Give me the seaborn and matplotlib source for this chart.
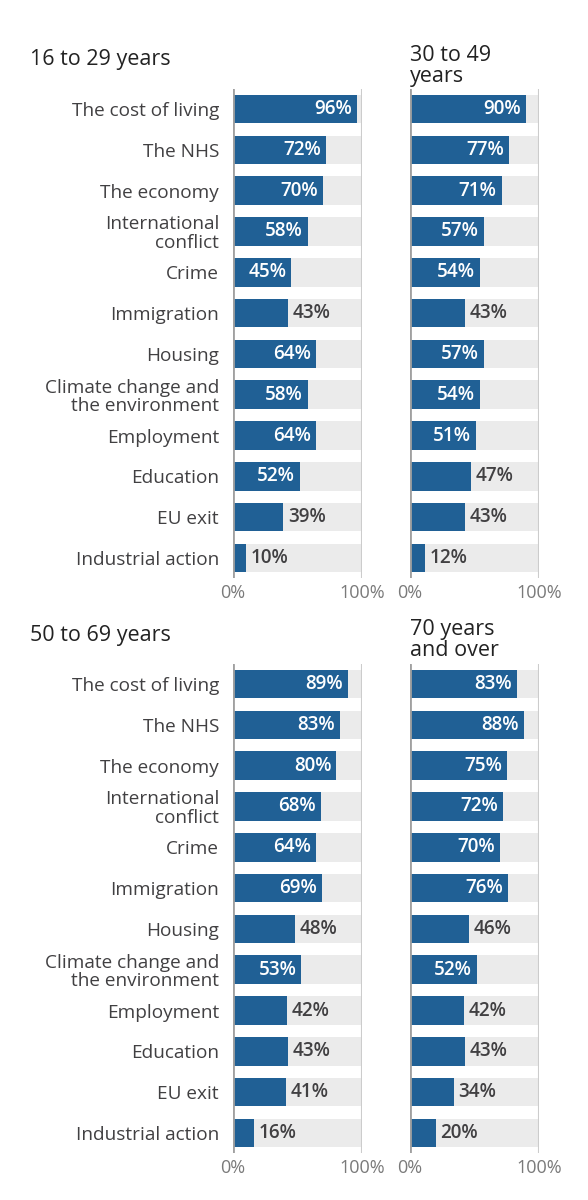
import matplotlib
matplotlib.use("Agg")
import matplotlib.pyplot as plt
import seaborn as sns
import pandas as pd

categories = ["The cost of living", "The NHS", "The economy", "International\nconflict",
              "Crime", "Immigration", "Housing", "Climate change and\nthe environment",
              "Employment", "Education", "EU exit", "Industrial action"]
titles = ["16 to 29 years", "30 to 49\nyears", "50 to 69 years", "70 years\nand over"]
v16_29 = [96, 72, 70, 58, 45, 43, 64, 58, 64, 52, 39, 10]
v30_49 = [90, 77, 71, 57, 54, 43, 57, 54, 51, 47, 43, 12]
v50_69 = [89, 83, 80, 68, 64, 69, 48, 53, 42, 43, 41, 16]
v70_plus = [83, 88, 75, 72, 70, 76, 46, 52, 42, 43, 34, 20]
tick_values = [0, 100]
tick_labels = ["0%", "100%"]

series = [v16_29, v30_49, v50_69, v70_plus]
# threshold above which the label sits inside the bar
inside_threshold = [44, 50, 50, 50]

sns.set_theme(style="white")
plt.rcParams['font.family'] = ['Open Sans', 'DejaVu Sans']

W, H = 588, 1200
fig = plt.figure(figsize=(W / 100, H / 100), dpi=100)

BLUE = "#206095"
BG = "#ebebeb"
TXT = "#414042"

lefts = [233, 410, 233, 410]
tops = [88.6, 88.6, 663.6, 663.6]
aw, ah = 129, 489.8
title_pos = [(30, 60), (410, 66), (30, 635), (410, 640)]

for i, vals in enumerate(series):
    l, t = lefts[i], tops[i]
    ax = fig.add_axes([l / W, 1 - (t + ah) / H, aw / W, ah / H])
    df = pd.DataFrame({"cat": categories, "val": vals, "full": [100] * len(categories)})
    sns.barplot(data=df, y="cat", x="full", color=BG, width=0.7, ax=ax,
                saturation=1, orient="h", linewidth=0)
    sns.barplot(data=df, y="cat", x="val", color=BLUE, width=0.7, ax=ax,
                saturation=1, orient="h", linewidth=0)
    ax.set_xlim(0, 100)
    ax.set_ylim(len(categories) - 0.5, -0.5)
    ax.axvline(0, color="#a0a0a0", lw=2.0, zorder=5)
    ax.axvline(100, color="#cccccc", lw=1.5, zorder=5)
    for s in ax.spines.values():
        s.set_visible(False)
    ax.set_xlabel("")
    ax.set_ylabel("")
    ax.set_xticks(tick_values)
    ax.set_xticklabels(tick_labels, fontsize=13, color="#7a7a7a")
    ax.tick_params(axis="x", length=0, pad=4)
    ax.tick_params(axis="y", length=0, pad=10)
    if i % 2 == 0:
        ax.set_yticks(range(len(categories)))
        ax.set_yticklabels(categories, fontsize=13.7, color=TXT, linespacing=1.05)
    else:
        ax.set_yticks([])
    for j, v in enumerate(vals):
        if v > inside_threshold[i]:
            ax.text(v - 3.8, j, f"{v}%", ha="right", va="center", color="white",
                    fontsize=13.6, fontweight="semibold")
        else:
            ax.text(v + 3.5, j, f"{v}%", ha="left", va="center", color=TXT,
                    fontsize=13.6, fontweight="semibold")
    tx, ty = title_pos[i]
    fig.text(tx / W, 1 - ty / H, titles[i], ha="left", va="center", fontsize=15.5,
             color="#222222", linespacing=1.0)

fig.savefig("out.png", dpi=100)
